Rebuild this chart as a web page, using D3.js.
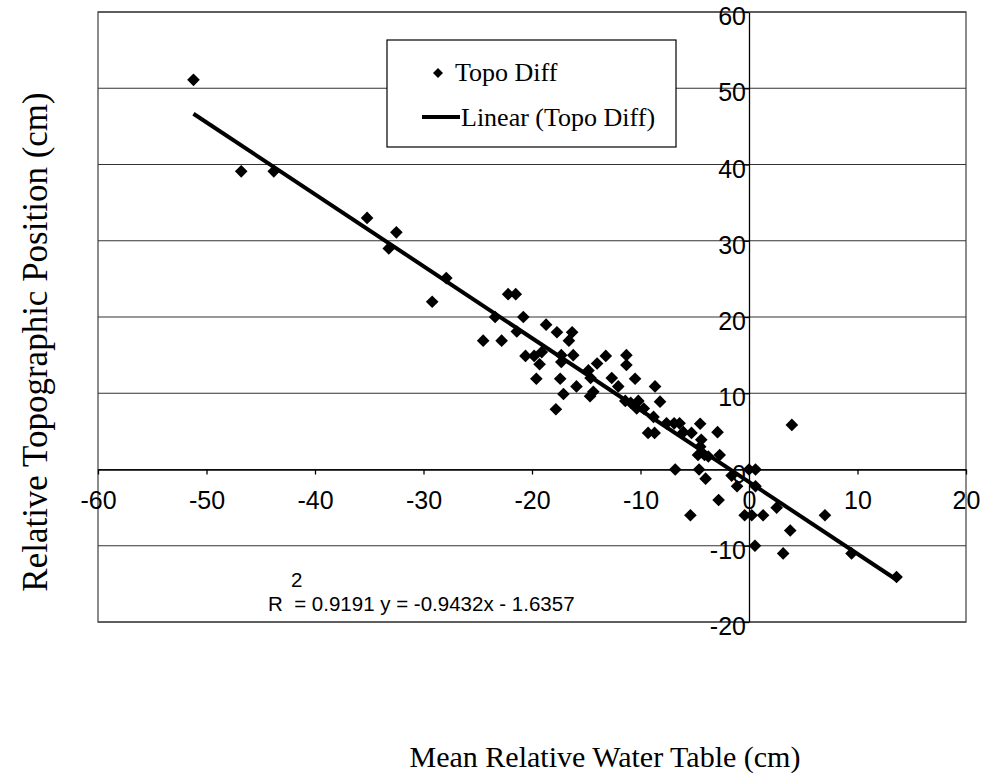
<!DOCTYPE html>
<html>
  <head>
    <meta charset="utf-8" />
    <title>Topo Diff vs Water Table</title>
    <style>
      body{
        margin: 0;
        background: white;
      }
      .tick text{
        font-family: 'Liberation Sans', Arial, sans-serif;
        font-size: 25px;
        fill: black;
      }
      .serif{
        font-family: 'Liberation Serif', 'Times New Roman', serif;
      }
    </style>
  </head>
  <body>
    <script src="https://d3js.org/d3.v7.min.js"></script>
    <svg id="chart"></svg>
    <script>
      // data
      var waterTable = [
        -51.2, -46.8, -43.8, -35.2, -32.5, -33.2, -27.9, -29.2, -23.4, -22.2,
        -21.5, -20.8, -21.4, -24.5, -22.8, -18.7, -17.7, -16.3, -16.6, -20.6,
        -19.8, -19.1, -19.3, -17.3, -17.3, -16.2, -19.6, -17.4, -15.9, -17.1,
        -17.8, -14.8, -14.6, -14.0, -13.2, -14.65, -14.35, -12.65, -12.05, -11.3,
        -11.3, -10.5, -11.4, -10.9, -10.2, -10.35, -9.7, -8.66, -8.2, -8.8,
        -9.3, -8.7, -7.6, -6.9, -6.4, -6.05, -5.3, -4.5, -4.4, -4.5,
        -4.7, -4.1, -3.75, -2.9, -2.7, -6.8, -4.6, -4.0, -1.6, -1.1,
        0.0, 0.6, 0.6, -2.8, -5.4, -0.4, 0.25, 1.3, 2.55, 3.95,
        3.8, 7.0, 0.55, 3.15, 9.45, 13.6
      ];
      var topoDiff = [
        51.1, 39.1, 39.1, 33.0, 31.1, 29.0, 25.1, 22.0, 20.0, 23.0,
        23.0, 20.0, 18.1, 16.9, 16.9, 19.0, 18.0, 18.0, 16.9, 14.9,
        14.9, 15.4, 13.8, 15.0, 14.1, 15.0, 11.9, 11.9, 10.9, 9.9,
        7.9, 13.0, 12.0, 13.9, 14.9, 9.6, 10.2, 12.0, 10.9, 15.0,
        13.7, 11.9, 9.0, 8.75, 9.0, 8.0, 8.0, 10.9, 8.9, 6.9,
        4.8, 4.8, 6.05, 6.05, 6.05, 4.9, 4.8, 6.0, 3.9, 3.0,
        1.9, 1.9, 1.7, 4.9, 1.9, 0.0, 0.0, -1.2, -0.8, -2.2,
        0.0, 0.0, -2.2, -4.0, -6.0, -6.0, -6.0, -6.0, -5.0, 5.85,
        -8.0, -6.0, -10.0, -11.0, -11.0, -14.1
      ];
      var xTicks = [-60, -50, -40, -30, -20, -10, 0, 10, 20];
      var yTicks = [-20, -10, 0, 10, 20, 30, 40, 50, 60];
      var slope = -0.9432;
      var intercept = -1.6357;
      var rSquared = "0.9191";

      var points = waterTable.map(function (d, i) {
        return { x: d, y: topoDiff[i] };
      });

      var width = 982;
      var height = 777;
      var plotLeft = 98, plotRight = 966, plotTop = 12, plotBottom = 622;

      var svg = d3.select("#chart")
        .attr("width", width)
        .attr("height", height);

      var x = d3.scaleLinear().domain([-60, 20]).range([plotLeft, plotRight]);
      var y = d3.scaleLinear().domain([-20, 60]).range([plotBottom, plotTop]);

      // plain hyphen labels like the original
      var fmt = function (d) { return String(d); };

      // plot area border
      svg.append("rect")
        .attr("x", plotLeft)
        .attr("y", plotTop)
        .attr("width", plotRight - plotLeft)
        .attr("height", plotBottom - plotTop)
        .attr("fill", "white")
        .attr("stroke", "#666")
        .attr("stroke-width", 1.5);

      // horizontal gridlines
      svg.selectAll(".grid")
        .data(yTicks)
        .enter()
        .append("line")
        .attr("class", "grid")
        .attr("x1", plotLeft)
        .attr("x2", plotRight)
        .attr("y1", function (d) { return y(d); })
        .attr("y2", function (d) { return y(d); })
        .attr("stroke", "#333")
        .attr("stroke-width", 1.2);

      // axes cross at 0
      var xAxis = d3.axisBottom(x)
        .tickValues(xTicks)
        .tickFormat(fmt)
        .tickSize(5)
        .tickSizeOuter(0)
        .tickPadding(17);

      svg.append("g")
        .attr("transform", "translate(0," + y(0) + ")")
        .call(xAxis)
        .call(function (g) {
          g.selectAll("line, path").attr("stroke", "black").attr("stroke-width", 1.3);
        });

      var yAxis = d3.axisLeft(y)
        .tickValues(yTicks)
        .tickFormat(fmt)
        .tickSize(5)
        .tickSizeOuter(0)
        .tickPadding(-2);

      svg.append("g")
        .attr("transform", "translate(" + x(0) + ",0)")
        .call(yAxis)
        .call(function (g) {
          g.selectAll("line, path").attr("stroke", "black").attr("stroke-width", 1.3);
          g.selectAll("text").attr("dy", "0.5em");
        });

      // trend line
      var xExtent = d3.extent(waterTable);
      svg.append("line")
        .attr("x1", x(xExtent[0]))
        .attr("y1", y(slope * xExtent[0] + intercept))
        .attr("x2", x(xExtent[1]))
        .attr("y2", y(slope * xExtent[1] + intercept))
        .attr("stroke", "black")
        .attr("stroke-width", 4);

      // diamond markers
      var diamond = d3.symbol().type(d3.symbolSquare).size(80);
      svg.selectAll(".pt")
        .data(points)
        .enter()
        .append("path")
        .attr("class", "pt")
        .attr("d", diamond)
        .attr("transform", function (d) {
          return "translate(" + x(d.x) + "," + y(d.y) + ") rotate(45)";
        })
        .attr("fill", "black");

      // legend
      var legend = svg.append("g").attr("transform", "translate(387,40)");
      legend.append("rect")
        .attr("width", 289)
        .attr("height", 107)
        .attr("fill", "white")
        .attr("stroke", "black")
        .attr("stroke-width", 1.2);
      legend.append("path")
        .attr("d", d3.symbol().type(d3.symbolSquare).size(50))
        .attr("transform", "translate(51,33) rotate(45)")
        .attr("fill", "black");
      legend.append("text")
        .attr("class", "serif")
        .attr("x", 68)
        .attr("y", 41)
        .attr("font-size", 26)
        .text("Topo Diff");
      legend.append("line")
        .attr("x1", 35)
        .attr("x2", 73)
        .attr("y1", 77)
        .attr("y2", 77)
        .attr("stroke", "black")
        .attr("stroke-width", 4);
      legend.append("text")
        .attr("class", "serif")
        .attr("x", 74)
        .attr("y", 86)
        .attr("font-size", 26)
        .text("Linear (Topo Diff)");

      // equation label
      var eq = svg.append("g")
        .attr("font-family", "'Liberation Sans', Arial, sans-serif")
        .attr("font-size", 20.5);
      eq.append("text")
        .attr("x", 291)
        .attr("y", 587)
        .text("2");
      eq.append("text")
        .attr("x", 268)
        .attr("y", 611)
        .attr("xml:space", "preserve")
        .text("R  = " + rSquared + " y = " + slope + "x - " + Math.abs(intercept));

      // axis titles
      svg.append("text")
        .attr("class", "serif")
        .attr("x", 605)
        .attr("y", 767)
        .attr("text-anchor", "middle")
        .attr("font-size", 30)
        .text("Mean Relative Water Table (cm)");

      svg.append("text")
        .attr("class", "serif")
        .attr("transform", "translate(47,342) rotate(-90)")
        .attr("text-anchor", "middle")
        .attr("font-size", 35)
        .text("Relative Topographic Position (cm)");
    </script>
  </body>
</html>
